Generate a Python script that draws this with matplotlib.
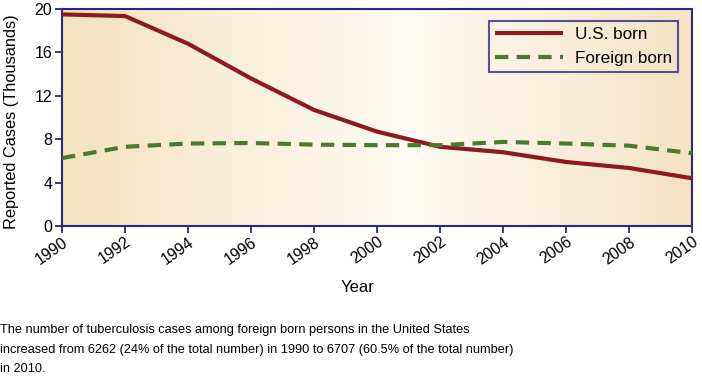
import numpy as np
import matplotlib
matplotlib.use("Agg")
import matplotlib.pyplot as plt
from matplotlib.colors import LinearSegmentedColormap

plt.rcParams['font.family'] = ['Liberation Sans', 'DejaVu Sans']

years = [1990, 1992, 1994, 1996, 1998, 2000, 2002, 2004, 2006, 2008, 2010]
us_born = [19.5, 19.35, 16.8, 13.6, 10.7, 8.7, 7.3, 6.8, 5.9, 5.35, 4.4]
foreign_born = [6.26, 7.3, 7.6, 7.65, 7.5, 7.45, 7.45, 7.75, 7.6, 7.4, 6.71]
yticks = [0, 4, 8, 12, 16, 20]
xticks = list(range(1990, 2011, 2))
caption_lines = [
    "The number of tuberculosis cases among foreign born persons in the United States",
    "increased from 6262 (24% of the total number) in 1990 to 6707 (60.5% of the total number)",
    "in 2010.",
]

navy = '#2a2a7c'
red = '#8c1a1f'
green = '#4b7a2f'

W, H = 702, 377
fig = plt.figure(figsize=(W/100, H/100), dpi=100)
ax = fig.add_axes([62/W, 1-226/H, (692-62)/W, (226-9)/H])

cmap = LinearSegmentedColormap.from_list('bg', [(0.0, '#f4e2bf'), (0.55, '#fefbf4'), (1.0, '#f4e3c3')])
grad = np.linspace(0, 1, 256).reshape(1, -1)
ax.imshow(grad, extent=[1990, 2010, 0, 20], aspect='auto', cmap=cmap, zorder=0)

ax.plot(years, us_born, color=red, lw=3.0, solid_capstyle='butt', label='U.S. born', zorder=3)
ax.plot(years, foreign_born, color=green, lw=3.0, dashes=(3.2, 2.0), label='Foreign born', zorder=3)

ax.set_xlim(1990, 2010)
ax.set_ylim(0, 20)
ax.set_xticks(xticks)
ax.set_yticks(yticks)
ax.set_xticklabels([str(x) for x in xticks], rotation=35, ha='right', va='top', rotation_mode='anchor')
ax.tick_params(axis='both', colors=navy, labelcolor='black', labelsize=11.5, width=1.3, length=5)
ax.tick_params(axis='y', pad=2)
ax.tick_params(axis='x', pad=1)
for s in ax.spines.values():
    s.set_color(navy)
    s.set_linewidth(1.5)

ax.set_ylabel('Reported Cases (Thousands)', fontsize=11.8)
ax.yaxis.set_label_coords((12 - 62) / 630, (226 - 121.5) / 217)
ax.set_xlabel('Year', fontsize=12)
ax.xaxis.set_label_coords((358 - 62) / 630, (226 - 288) / 217)
ax.xaxis.label.set_va('center')
ax.yaxis.label.set_va('center')

leg = ax.legend(loc='upper right', bbox_to_anchor=((678 - 62) / 630, (226 - 21) / 217),
                borderaxespad=0, fontsize=12.3, frameon=True,
                fancybox=False, handlelength=4.0, borderpad=0.35, labelspacing=0.5,
                handletextpad=0.7)
leg.get_frame().set_edgecolor(navy)
leg.get_frame().set_linewidth(1.5)
leg.get_frame().set_facecolor('none')

for i, line in enumerate(caption_lines):
    fig.text(0.0, 1 - (333 + 19.5 * i) / H, line, fontsize=9.2, va='baseline', ha='left')

fig.savefig('out.png', dpi=100)
